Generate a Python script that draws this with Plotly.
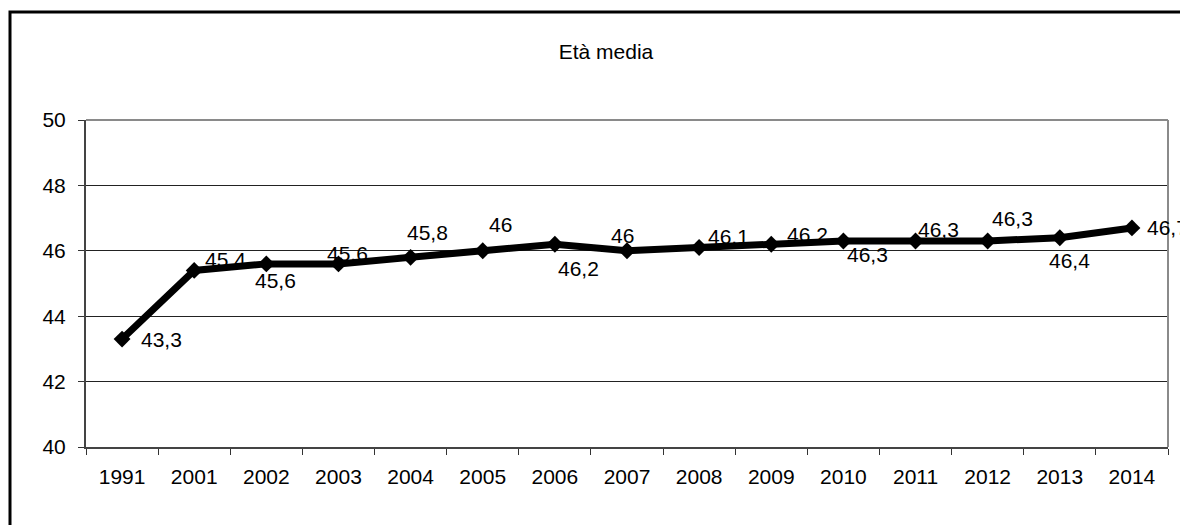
import plotly.graph_objects as go

# Average age by year
years = ["1991", "2001", "2002", "2003", "2004", "2005", "2006", "2007",
         "2008", "2009", "2010", "2011", "2012", "2013", "2014"]
eta_media = [43.3, 45.4, 45.6, 45.6, 45.8, 46.0, 46.2, 46.0,
             46.1, 46.2, 46.3, 46.3, 46.3, 46.4, 46.7]

# Pixel offsets (dx, dy; dy positive = down) for each value label
label_offsets = [(39, 0), (31, -11), (9, 17), (9, -10), (17, -25), (18, -26),
                 (24, 24), (-5, -15), (29, -11), (36, -10), (24, 14), (23, -11),
                 (25, -22), (10, 23), (None, 0)]

FONT = "Liberation Sans, Arial, sans-serif"
FS = 21


def fmt(v):
    s = f"{v:.1f}".rstrip("0").rstrip(".")
    return s.replace(".", ",")


fig = go.Figure()
fig.add_trace(go.Scatter(
    x=years, y=eta_media, mode="lines+markers",
    line=dict(color="black", width=7),
    marker=dict(symbol="diamond", size=13, color="black"),
    cliponaxis=False, hoverinfo="skip", showlegend=False,
))

for i, (v, off) in enumerate(zip(eta_media, label_offsets)):
    dx, dy = off
    if dx is None:
        fig.add_annotation(x=i, y=v, xref="x", yref="y", text=fmt(v), showarrow=False,
                           xanchor="left", yanchor="middle", xshift=13, yshift=-dy,
                           font=dict(family=FONT, size=FS, color="black"))
    else:
        fig.add_annotation(x=i, y=v, xref="x", yref="y", text=fmt(v), showarrow=False,
                           xanchor="center", yanchor="middle", xshift=dx, yshift=-dy,
                           font=dict(family=FONT, size=FS, color="black"))

fig.update_layout(
    width=1180, height=525,
    margin=dict(l=86, r=12, t=120, b=78),
    paper_bgcolor="white", plot_bgcolor="white",
    title=dict(text="Età media", x=606 / 1180, xanchor="center",
               y=1 - 52 / 525, yanchor="middle",
               font=dict(family=FONT, size=21, color="black")),
    font=dict(family=FONT, size=FS, color="black"),
    xaxis=dict(
        type="category", range=[-0.5, 14.5],
        showgrid=False, tickson="boundaries", ticks="outside",
        ticklen=6, tickwidth=1, tickcolor="#333333",
        showline=True, linecolor="#444444", linewidth=2,
        ticklabelstandoff=10,
        tickfont=dict(family=FONT, size=FS, color="black"),
    ),
    yaxis=dict(
        range=[40, 50], dtick=2, tick0=40,
        showgrid=True, gridcolor="#222222", gridwidth=1,
        ticks="outside", ticklen=6, tickwidth=1, tickcolor="#333333",
        showline=True, linecolor="#444444", linewidth=2,
        ticklabelstandoff=8, zeroline=False,
        tickfont=dict(family=FONT, size=FS, color="black"),
    ),
    shapes=[
        # plot area frame (top and right edges)
        dict(type="line", xref="paper", yref="paper", x0=0, x1=1, y0=1, y1=1,
             line=dict(color="#8a8a8a", width=2), layer="above"),
        dict(type="line", xref="paper", yref="paper", x0=1, x1=1, y0=0, y1=1,
             line=dict(color="#8a8a8a", width=2), layer="above"),
        # outer chart frame
        dict(type="rect", xref="paper", yref="paper",
             x0=(10 - 86) / 1082, x1=1.2, y0=-0.6, y1=1 + (120 - 12) / 327,
             line=dict(color="black", width=3), layer="below"),
    ],
)

fig.write_html("out.html")
